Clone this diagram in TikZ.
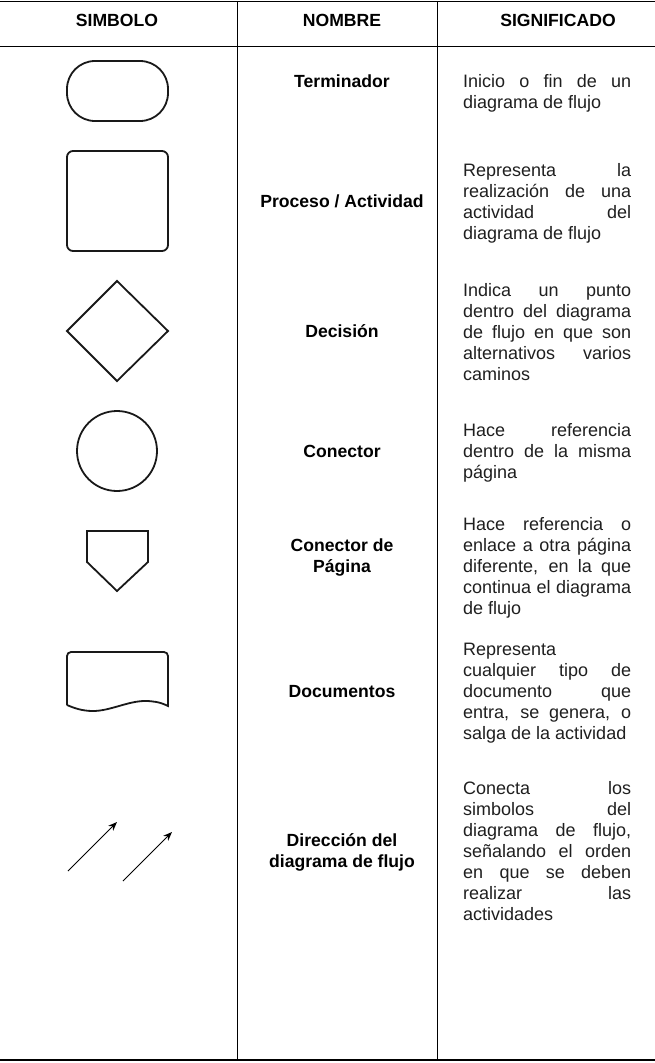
\documentclass[tikz,border=0pt]{standalone}
\usepackage{fontspec}
\setmainfont{Liberation Sans}
\usetikzlibrary{arrows.meta}
\tikzset{
 gridline/.style={line width=1.5pt, draw=black},
 shp/.style={line width=1.8pt, draw=black!90},
 txt/.style={anchor=base west, inner sep=0pt, font=\fontsize{18}{21}\selectfont, text=black!88},
 nm/.style={anchor=base, inner sep=0pt, font=\fontsize{17.6}{21}\selectfont\bfseries, text=black},
 flow/.style={line width=1pt, draw=black, -{Stealth[length=9pt,width=7pt]}}
}
\newcommand\jline[3]{\node[txt] (#1) at (463,#2) {\makebox[168pt][s]{#3}};}
\newcommand\lline[3]{\node[txt] (#1) at (463,#2) {#3};}
\begin{document}
\begin{tikzpicture}[x=1pt,y=-1pt]
\useasboundingbox (0,0) rectangle (655,1063);
% table grid
\draw[gridline] (0,1.5) -- (655,1.5);
\draw[gridline] (0,46.5) -- (655,46.5);
\draw[gridline] (0,1060) -- (655,1060);
\draw[gridline] (237.5,1.5) -- (237.5,1060);
\draw[gridline] (437.5,1.5) -- (437.5,1060);
% headers
\node[nm] (h1) at (117,26) {SIMBOLO};
\node[nm] (h2) at (342,26) {NOMBRE};
\node[nm] (h3) at (558,26) {SIGNIFICADO};
% symbols
\draw[shp, rounded corners=28pt] (67,61) rectangle (168,121);
\draw[shp, rounded corners=6pt] (67,151) rectangle (168,251);
\draw[shp] (117,281) -- (168,331) -- (117,381) -- (67,331) -- cycle;
\draw[shp] (117,451) circle[radius=40];
\draw[shp] (87,531) -- (148,531) -- (148,562) -- (117,591) -- (87,562) -- cycle;
\draw[shp] (67,705) [rounded corners=4pt] -- (67,652) -- (168,652) [sharp corners] -- (168,706)
  .. controls (160,702) and (153,701) .. (145,701)
  .. controls (128,701) and (110,711) .. (93,711)
  .. controls (82,711) and (74,708) .. (67,705);
\coordinate (a1s) at (68,871); \coordinate (a1e) at (117,822);
\coordinate (a2s) at (123,881); \coordinate (a2e) at (172,832);
\draw[flow] (a1s) -- (a1e);
\draw[flow] (a2s) -- (a2e);
% names
\node[nm] (n1) at (342,87) {Terminador};
\node[nm] (n2) at (342,207) {Proceso / Actividad};
\node[nm] (n3) at (342,337) {Decisión};
\node[nm] (n4) at (342,457) {Conector};
\node[nm] (n5a) at (342,551) {Conector de};
\node[nm] (n5b) at (342,572) {Página};
\node[nm] (n6) at (342,697) {Documentos};
\node[nm] (n7a) at (342,846) {Dirección del};
\node[nm] (n7b) at (342,867) {diagrama de flujo};
% meanings
\jline{s1a}{87}{Inicio o fin de un}
\lline{s1b}{108}{diagrama de flujo}
\jline{s2a}{176}{Representa la}
\jline{s2b}{197}{realización de una}
\jline{s2c}{218}{actividad del}
\lline{s2d}{239}{diagrama de flujo}
\jline{s3a}{296}{Indica un punto}
\jline{s3b}{317}{dentro del diagrama}
\jline{s3c}{338}{de flujo en que son}
\jline{s3d}{359}{alternativos varios}
\lline{s3e}{380}{caminos}
\jline{s4a}{436}{Hace referencia}
\jline{s4b}{457}{dentro de la misma}
\lline{s4c}{478}{página}
\jline{s5a}{530}{Hace referencia o}
\jline{s5b}{551}{enlace a otra página}
\jline{s5c}{572}{diferente, en la que}
\jline{s5d}{593}{continua el diagrama}
\lline{s5e}{614}{de flujo}
\lline{s6a}{655}{Representa}
\jline{s6b}{676}{cualquier tipo de}
\jline{s6c}{697}{documento que}
\jline{s6d}{718}{entra, se genera, o}
\lline{s6e}{739}{salga de la actividad}
\jline{s7a}{794}{Conecta los}
\jline{s7b}{815}{simbolos del}
\jline{s7c}{836}{diagrama de flujo,}
\jline{s7d}{857}{señalando el orden}
\jline{s7e}{878}{en que se deben}
\jline{s7f}{899}{realizar las}
\lline{s7g}{920}{actividades}
\end{tikzpicture}
\end{document}
